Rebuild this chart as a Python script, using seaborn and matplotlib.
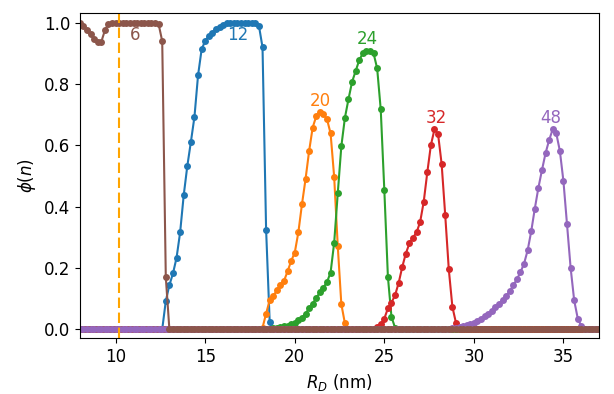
import numpy as np
import pandas as pd
import matplotlib
matplotlib.use("Agg")
import matplotlib.pyplot as plt
import seaborn as sns

# droplet radius grid (nm), sampled every 0.2 nm
R_D = np.round(np.arange(8.0, 37.0 + 1e-9, 0.2), 1)

# phi(n) values; outside the listed span the value is 0
phi6_start = 8.0
phi6 = [1.0, 0.99, 0.975, 0.962, 0.948, 0.936, 0.938, 0.975, 0.997,
        1.0, 1.0, 1.0, 1.0, 1.0, 1.0, 1.0, 1.0, 1.0, 1.0, 1.0, 1.0, 1.0,
        0.995, 0.94, 0.17]

phi12_start = 12.8
phi12 = [0.092, 0.144, 0.182, 0.233, 0.316, 0.437, 0.532, 0.611, 0.693,
         0.828, 0.913, 0.941, 0.957, 0.967, 0.978, 0.987, 0.992, 0.998,
         1.0, 1.0, 1.0, 1.0, 1.0, 1.0, 1.0, 1.0, 0.99, 0.92, 0.325, 0.024]

phi20_start = 18.2
phi20 = [0.005, 0.051, 0.095, 0.108, 0.127, 0.144, 0.158, 0.189, 0.223,
         0.25, 0.316, 0.407, 0.489, 0.581, 0.658, 0.695, 0.708, 0.702,
         0.685, 0.639, 0.497, 0.272, 0.082, 0.019]

phi24_start = 18.6
phi24 = [0.002, 0.003, 0.004, 0.006, 0.009, 0.012, 0.016, 0.022, 0.029,
         0.038, 0.051, 0.068, 0.084, 0.102, 0.12, 0.136, 0.154, 0.185,
         0.282, 0.443, 0.597, 0.69, 0.751, 0.807, 0.843, 0.878, 0.9, 0.908,
         0.908, 0.9, 0.851, 0.717, 0.454, 0.171, 0.04, 0.005]

phi32_start = 24.4
phi32 = [0.002, 0.006, 0.016, 0.035, 0.068, 0.087, 0.111, 0.151, 0.203,
         0.247, 0.28, 0.299, 0.316, 0.35, 0.416, 0.512, 0.601, 0.652,
         0.637, 0.539, 0.372, 0.195, 0.073, 0.021]

phi48_start = 28.4
phi48 = [0.001, 0.002, 0.003, 0.004, 0.006, 0.009, 0.013, 0.017, 0.022,
         0.028, 0.035, 0.043, 0.05, 0.059, 0.071, 0.082, 0.095, 0.109,
         0.124, 0.143, 0.163, 0.186, 0.214, 0.257, 0.319, 0.393, 0.461,
         0.519, 0.574, 0.617, 0.652, 0.639, 0.582, 0.483, 0.344, 0.201,
         0.094, 0.035, 0.01]

# label text positions
label_n = [6, 12, 20, 24, 32, 48]
label_x = [11.1, 16.8, 21.4, 24.07, 27.9, 34.3]
label_y = [0.96, 0.96, 0.745, 0.946, 0.69, 0.69]

d_threshold = 10.2


def full_curve(start, vals):
    y = np.zeros(len(R_D))
    i0 = int(round((start - R_D[0]) / 0.2))
    y[i0:i0 + len(vals)] = vals
    return y


curves = {6: (phi6_start, phi6), 12: (phi12_start, phi12),
          20: (phi20_start, phi20), 24: (phi24_start, phi24),
          32: (phi32_start, phi32), 48: (phi48_start, phi48)}

df = pd.concat([pd.DataFrame({'R': R_D, 'phi': full_curve(s, v), 'n': n})
                for n, (s, v) in curves.items()])

order = [12, 20, 24, 32, 48, 6]
colors = dict(zip(order, sns.color_palette('tab10', 6)))

fig, ax = plt.subplots(figsize=(6.14, 3.94), dpi=100)
fig.subplots_adjust(left=0.130, right=0.976, top=0.968, bottom=0.141)

sns.lineplot(data=df, x='R', y='phi', hue='n', hue_order=order,
             palette=colors, marker='o', markersize=5, markeredgewidth=0,
             linewidth=1.5, legend=False, ax=ax)

ax.axvline(d_threshold, color='orange', linestyle='--', linewidth=1.5,
           dashes=(5, 2.2))

for n, tx, ty in zip(label_n, label_x, label_y):
    ax.text(tx, ty, str(n), color=colors[n], fontsize=12,
            ha='center', va='center')

ax.set_xlim(8, 37)
ax.set_ylim(-0.03, 1.033)
ax.set_xticks([10, 15, 20, 25, 30, 35])
ax.set_yticks([0.0, 0.2, 0.4, 0.6, 0.8, 1.0])
ax.tick_params(labelsize=12)
ax.set_xlabel(r'$R_D$ (nm)', fontsize=12)
ax.set_ylabel(r'$\phi(n)$', fontsize=12)

plt.savefig('out.png')
